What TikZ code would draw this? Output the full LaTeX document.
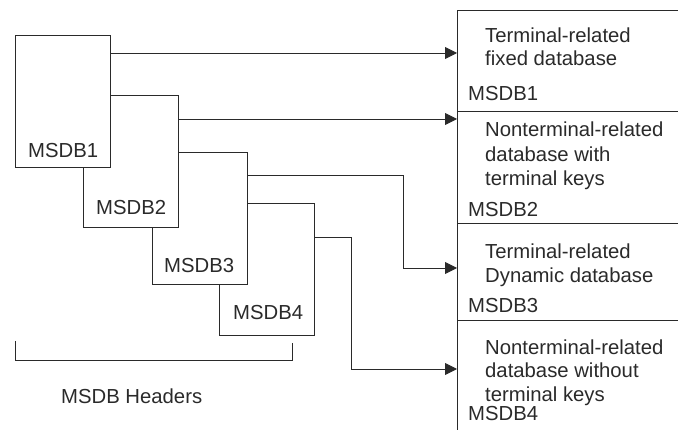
\documentclass[tikz,border=0pt]{standalone}
\usepackage{fontspec}
\setmainfont{Liberation Sans}
\usetikzlibrary{arrows.meta}
\definecolor{ink}{HTML}{2A2A2A}
\tikzset{
  hbox/.style={draw=ink, fill=white, line width=0.9pt, minimum width=95pt, minimum height=132pt, inner sep=0pt, outer sep=0pt},
  lbl/.style={anchor=base west, inner sep=0pt, text=ink, font=\fontsize{20.3}{24}\selectfont},
  ln/.style={draw=ink, line width=0.9pt},
  arr/.style={ln, -{Triangle[length=12pt,width=12pt]}}
}
\begin{document}
\begin{tikzpicture}[x=1pt,y=-1pt]
\useasboundingbox (0,0) rectangle (678,430);
% header boxes (back to front)
\node[hbox] (b4) at (266.5,269) {};
\node[hbox] (b3) at (199.5,218) {};
\node[hbox] (b2) at (130.5,161) {};
\node[hbox] (b1) at (62.5,101) {};
\node[lbl] (t1) at (28,158) {MSDB1};
\node[lbl] (t2) at (96,215) {MSDB2};
\node[lbl] (t3) at (164,273) {MSDB3};
\node[lbl] (t4) at (233,320) {MSDB4};
% right panel
\coordinate (ptop) at (457,10);
\coordinate (pbot) at (457,430);
\coordinate (rtop) at (678,10);
\draw[ln] (pbot) -- (ptop) -- (rtop);
\coordinate (s1) at (457,111);
\coordinate (s2) at (457,223);
\coordinate (s3) at (457,320);
\draw[ln] (s1) -- (678,111);
\draw[ln] (s2) -- (678,223);
\draw[ln] (s3) -- (678,320);
\node[lbl] (d1a) at (485,43) {Terminal-related};
\node[lbl] (d1b) at (485,66) {fixed database};
\node[lbl] (m1) at (468,101) {MSDB1};
\node[lbl] (d2a) at (485,137) {Nonterminal-related};
\node[lbl] (d2b) at (485,162) {database with};
\node[lbl] (d2c) at (485,186) {terminal keys};
\node[lbl] (m2) at (468,217) {MSDB2};
\node[lbl] (d3a) at (485,259) {Terminal-related};
\node[lbl] (d3b) at (485,283) {Dynamic database};
\node[lbl] (m3) at (468,313) {MSDB3};
\node[lbl] (d4a) at (485,355) {Nonterminal-related};
\node[lbl] (d4b) at (485,378) {database without};
\node[lbl] (d4c) at (485,402) {terminal keys};
\node[lbl] (m4) at (468,421) {MSDB4};
% arrows
\draw[arr] (b1.east |- 0,53) -- (ptop |- 0,53);
\draw[arr] (b2.east |- 0,119) -- (ptop |- 0,119);
\draw[arr] (b3.east |- 0,175) -- (403,175) -- (403,268) -- (ptop |- 0,268);
\draw[arr] (b4.east |- 0,237) -- (351,237) -- (351,369) -- (ptop |- 0,369);
% bracket
\coordinate (k1) at (15,341);
\coordinate (k2) at (292,343);
\draw[ln] (k1) -- (15,360) -- (292,360) -- (k2);
\node[lbl] (hd) at (61,404) {MSDB Headers};
\end{tikzpicture}
\end{document}
